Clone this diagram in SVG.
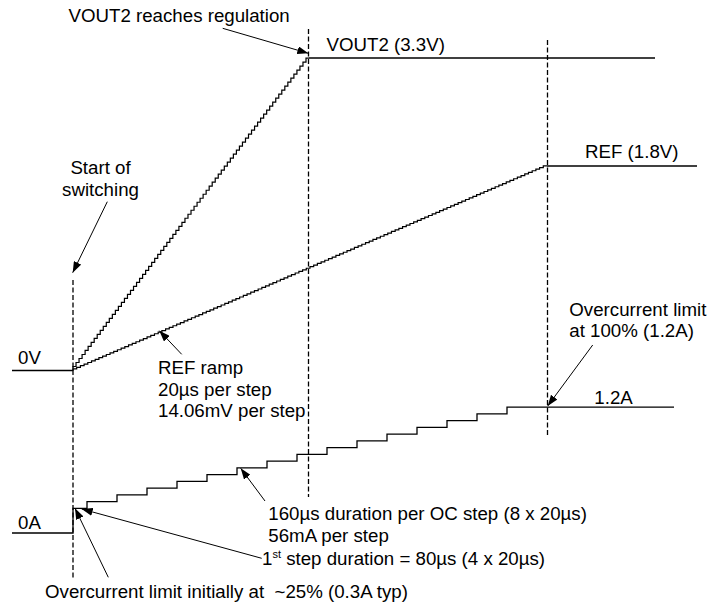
<svg xmlns="http://www.w3.org/2000/svg" width="709" height="605" viewBox="0 0 709 605">
<style>
text{font-family:"Liberation Sans",Arial,sans-serif;font-size:18.7px;fill:#000}
.sig{fill:none;stroke:#000;stroke-width:1.3}
.stair{fill:none;stroke:#000;stroke-width:1.2}
.dash{fill:none;stroke:#000;stroke-width:1.3;stroke-dasharray:5,2.5}
.arr{fill:none;stroke:#000;stroke-width:1;marker-end:url(#ah)}
</style>
<defs>
<marker id="ah" markerUnits="userSpaceOnUse" markerWidth="12" markerHeight="8" refX="11" refY="4" orient="auto">
<path d="M0,0 L11,4 L0,8 z" fill="#000"/>
</marker>
</defs>
<rect width="709" height="605" fill="#fff"/>
<g id="markers-time">
<line class="dash" x1="73" y1="280" x2="73" y2="580"/>
<line class="dash" x1="308.5" y1="29" x2="308.5" y2="497"/>
<line class="dash" x1="547.5" y1="40" x2="547.5" y2="436"/>
</g>
<g id="vout2">
<path class="sig" d="M12,370.5 H73"/>
<path class="stair" d="M73,370.5
v-4.006h3.026v-4.006h3.026v-4.006h3.026v-4.006h3.026v-4.006h3.026v-4.006h3.026
v-4.006h3.026v-4.006h3.026v-4.006h3.026v-4.006h3.026v-4.006h3.026v-4.006h3.026
v-4.006h3.026v-4.006h3.026v-4.006h3.026v-4.006h3.026v-4.006h3.026v-4.006h3.026
v-4.006h3.026v-4.006h3.026v-4.006h3.026v-4.006h3.026v-4.006h3.026v-4.006h3.026
v-4.006h3.026v-4.006h3.026v-4.006h3.026v-4.006h3.026v-4.006h3.026v-4.006h3.026
v-4.006h3.026v-4.006h3.026v-4.006h3.026v-4.006h3.026v-4.006h3.026v-4.006h3.026
v-4.006h3.026v-4.006h3.026v-4.006h3.026v-4.006h3.026v-4.006h3.026v-4.006h3.026
v-4.006h3.026v-4.006h3.026v-4.006h3.026v-4.006h3.026v-4.006h3.026v-4.006h3.026
v-4.006h3.026v-4.006h3.026v-4.006h3.026v-4.006h3.026v-4.006h3.026v-4.006h3.026
v-4.006h3.026v-4.006h3.026v-4.006h3.026v-4.006h3.026v-4.006h3.026v-4.006h3.026
v-4.006h3.026v-4.006h3.026v-4.006h3.026v-4.006h3.026v-4.006h3.026v-4.006h3.026
v-4.006h3.026v-4.006h3.026v-4.006h3.026v-4.006h3.026v-4.006h3.026v-4.006h3.026
v-4.006h3.026v-4.006h3.026v-4.006h3.026v-4.006h3.026v-4.006h3.026v-4.006h3.026"/>
<path class="sig" d="M309,58 H655"/>
</g>
<g id="ref">
<path class="stair" d="M73,370.5
v-1.598h3.703v-1.598h3.703v-1.598h3.703v-1.598h3.703v-1.598h3.703v-1.598h3.703v-1.598h3.703v-1.598h3.703
v-1.598h3.703v-1.598h3.703v-1.598h3.703v-1.598h3.703v-1.598h3.703v-1.598h3.703v-1.598h3.703v-1.598h3.703
v-1.598h3.703v-1.598h3.703v-1.598h3.703v-1.598h3.703v-1.598h3.703v-1.598h3.703v-1.598h3.703v-1.598h3.703
v-1.598h3.703v-1.598h3.703v-1.598h3.703v-1.598h3.703v-1.598h3.703v-1.598h3.703v-1.598h3.703v-1.598h3.703
v-1.598h3.703v-1.598h3.703v-1.598h3.703v-1.598h3.703v-1.598h3.703v-1.598h3.703v-1.598h3.703v-1.598h3.703
v-1.598h3.703v-1.598h3.703v-1.598h3.703v-1.598h3.703v-1.598h3.703v-1.598h3.703v-1.598h3.703v-1.598h3.703
v-1.598h3.703v-1.598h3.703v-1.598h3.703v-1.598h3.703v-1.598h3.703v-1.598h3.703v-1.598h3.703v-1.598h3.703
v-1.598h3.703v-1.598h3.703v-1.598h3.703v-1.598h3.703v-1.598h3.703v-1.598h3.703v-1.598h3.703v-1.598h3.703
v-1.598h3.703v-1.598h3.703v-1.598h3.703v-1.598h3.703v-1.598h3.703v-1.598h3.703v-1.598h3.703v-1.598h3.703
v-1.598h3.703v-1.598h3.703v-1.598h3.703v-1.598h3.703v-1.598h3.703v-1.598h3.703v-1.598h3.703v-1.598h3.703
v-1.598h3.703v-1.598h3.703v-1.598h3.703v-1.598h3.703v-1.598h3.703v-1.598h3.703v-1.598h3.703v-1.598h3.703
v-1.598h3.703v-1.598h3.703v-1.598h3.703v-1.598h3.703v-1.598h3.703v-1.598h3.703v-1.598h3.703v-1.598h3.703
v-1.598h3.703v-1.598h3.703v-1.598h3.703v-1.598h3.703v-1.598h3.703v-1.598h3.703v-1.598h3.703v-1.598h3.703
v-1.598h3.703v-1.598h3.703v-1.598h3.703v-1.598h3.703v-1.598h3.703v-1.598h3.703v-1.598h3.703v-1.598h3.703
v-1.598h3.703v-1.598h3.703v-1.598h3.703v-1.598h3.703v-1.598h3.703v-1.598h3.703v-1.598h3.703v-1.598h3.703
v-1.598h3.703v-1.598h3.703v-1.598h3.703v-1.598h3.703v-1.598h3.703v-1.598h3.703v-1.598h3.703v-1.598h3.703"/>
<path class="sig" d="M547,166 H697"/>
</g>
<g id="ocl">
<path class="sig" d="M12,533 H73 V508.3 H87 V501.55 H117 V494.8 H147 V488.05 H177 V481.3 H207 V474.55 H237 V467.8 H267 V461.05 H297 V454.3 H327 V447.55 H357 V440.8 H387 V434.05 H417 V427.3 H447 V420.55 H477 V413.8 H507 V407.05 H674"/>
</g>
<g id="connectors">
<line class="arr" x1="222.7" y1="28.3" x2="308.3" y2="53.3"/>
<line class="arr" x1="107.3" y1="201.7" x2="72.7" y2="272.7"/>
<line class="arr" x1="181.7" y1="354.3" x2="159.3" y2="330.7"/>
<line class="arr" x1="592.7" y1="345" x2="547.7" y2="406"/>
<line class="arr" x1="265" y1="501" x2="240.7" y2="468.3"/>
<line class="arr" x1="261.7" y1="558.3" x2="81.7" y2="509"/>
<line class="arr" x1="108.3" y1="577.3" x2="75" y2="508.3"/>
</g>
<g id="labels">
<text x="68.5" y="22.3">VOUT2 reaches regulation</text>
<text x="100.5" y="173.5" text-anchor="middle">Start of</text>
<text x="100.5" y="196" text-anchor="middle">switching</text>
<text x="326.5" y="50.7">VOUT2 (3.3V)</text>
<text x="585" y="158.3">REF (1.8V)</text>
<text x="18" y="364.3">0V</text>
<text x="18" y="529.3">0A</text>
<text x="158" y="374.3">REF ramp</text>
<text x="158" y="396">20µs per step</text>
<text x="158" y="417.3">14.06mV per step</text>
<text x="569.3" y="315.7">Overcurrent limit</text>
<text x="569.3" y="337">at 100% (1.2A)</text>
<text x="594.3" y="403.8">1.2A</text>
<text x="268.3" y="519.5">160µs duration per OC step (8 x 20µs)</text>
<text x="268.3" y="541.7">56mA per step</text>
<text x="262" y="565">1<tspan font-size="11" dy="-7">st</tspan><tspan dy="7"> step duration = 80µs (4 x 20µs)</tspan></text>
<text x="45" y="597.5">Overcurrent limit initially at &#160;~25% (0.3A typ)</text>
</g>
</svg>
